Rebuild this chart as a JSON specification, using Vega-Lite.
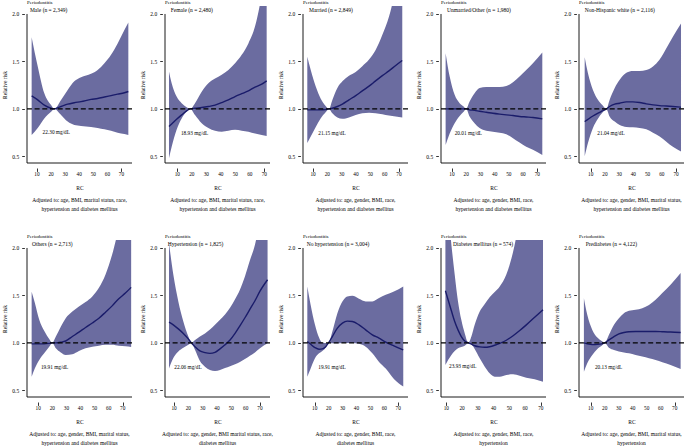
{
"$schema": "https://vega.github.io/schema/vega-lite/v6.json",
"background": "white",
"padding": {"left": 2, "top": 0, "right": 0, "bottom": 0},
"config": {
 "font": "Liberation Serif",
 "view": {"stroke": null},
 "axis": {"grid": false, "domain": false, "tickColor": "black", "labelColor": "black", "titleColor": "black", "titleFontWeight": "normal", "labelFont": "Liberation Serif", "titleFont": "Liberation Serif", "tickWidth": 0.8},
 "axisX": {"offset": 5, "tickSize": 3.4, "labels": false, "titleFontSize": 5.5, "titlePadding": 14},
 "axisY": {"offset": 2.6, "tickSize": 2.7, "labelFontSize": 5.5, "labelPadding": 3, "titleFontSize": 5.5, "titlePadding": 4.5},
 "title": {"orient": "bottom", "anchor": "middle", "fontSize": 5.5, "fontWeight": "normal", "font": "Liberation Serif", "offset": 7, "lineHeight": 8.3, "color": "black"}
},
"datasets": {
"ticks": [{"t":10},{"t":20},{"t":30},{"t":40},{"t":50},{"t":60},{"t":70}],
"c": [
{"p":1,"x":6.2,"lo":0.726,"hi":1.756,"rr":1.137},
{"p":1,"x":10.5,"lo":0.80,"hi":1.45,"rr":1.095},
{"p":1,"x":15.2,"lo":0.90,"hi":1.165,"rr":1.04},
{"p":1,"x":20.0,"lo":0.97,"hi":1.04,"rr":1.007},
{"p":1,"x":22.3,"lo":1.0,"hi":1.0,"rr":1.0},
{"p":1,"x":27.1,"lo":0.937,"hi":1.095,"rr":1.025},
{"p":1,"x":31.8,"lo":0.866,"hi":1.20,"rr":1.05},
{"p":1,"x":36.5,"lo":0.83,"hi":1.29,"rr":1.065},
{"p":1,"x":41.3,"lo":0.82,"hi":1.334,"rr":1.077},
{"p":1,"x":48.4,"lo":0.81,"hi":1.37,"rr":1.10},
{"p":1,"x":53.1,"lo":0.80,"hi":1.41,"rr":1.11},
{"p":1,"x":57.9,"lo":0.785,"hi":1.48,"rr":1.125},
{"p":1,"x":62.6,"lo":0.77,"hi":1.57,"rr":1.14},
{"p":1,"x":67.3,"lo":0.75,"hi":1.69,"rr":1.155},
{"p":1,"x":72.1,"lo":0.736,"hi":1.83,"rr":1.17},
{"p":1,"x":74.9,"lo":0.726,"hi":1.91,"rr":1.183},
{"p":2,"x":4.25,"lo":0.48,"hi":1.394,"rr":0.814},
{"p":2,"x":6.1,"lo":0.60,"hi":1.27,"rr":0.84},
{"p":2,"x":9.5,"lo":0.78,"hi":1.13,"rr":0.89},
{"p":2,"x":13.0,"lo":0.90,"hi":1.06,"rr":0.937},
{"p":2,"x":16.4,"lo":0.97,"hi":1.018,"rr":0.98},
{"p":2,"x":18.93,"lo":1.0,"hi":1.0,"rr":1.0},
{"p":2,"x":22.2,"lo":0.937,"hi":1.06,"rr":1.007},
{"p":2,"x":26.8,"lo":0.85,"hi":1.18,"rr":1.014},
{"p":2,"x":31.4,"lo":0.80,"hi":1.27,"rr":1.025},
{"p":2,"x":36.0,"lo":0.77,"hi":1.32,"rr":1.04},
{"p":2,"x":40.6,"lo":0.76,"hi":1.36,"rr":1.067},
{"p":2,"x":45.2,"lo":0.77,"hi":1.41,"rr":1.095},
{"p":2,"x":49.8,"lo":0.78,"hi":1.48,"rr":1.13},
{"p":2,"x":54.4,"lo":0.77,"hi":1.57,"rr":1.16},
{"p":2,"x":59.0,"lo":0.76,"hi":1.69,"rr":1.19},
{"p":2,"x":63.6,"lo":0.74,"hi":1.87,"rr":1.23},
{"p":2,"x":68.2,"lo":0.726,"hi":2.2,"rr":1.26},
{"p":2,"x":71.6,"lo":0.715,"hi":2.5,"rr":1.295},
{"p":3,"x":6.0,"lo":0.64,"hi":1.55,"rr":0.99},
{"p":3,"x":8.4,"lo":0.71,"hi":1.41,"rr":0.99},
{"p":3,"x":11.9,"lo":0.81,"hi":1.235,"rr":0.99},
{"p":3,"x":15.3,"lo":0.90,"hi":1.11,"rr":0.99},
{"p":3,"x":18.8,"lo":0.965,"hi":1.03,"rr":0.993},
{"p":3,"x":21.15,"lo":1.0,"hi":1.0,"rr":1.0},
{"p":3,"x":23.5,"lo":0.954,"hi":1.095,"rr":1.007},
{"p":3,"x":27.0,"lo":0.91,"hi":1.22,"rr":1.025},
{"p":3,"x":30.5,"lo":0.895,"hi":1.29,"rr":1.05},
{"p":3,"x":35.1,"lo":0.91,"hi":1.35,"rr":1.095},
{"p":3,"x":39.8,"lo":0.937,"hi":1.39,"rr":1.14},
{"p":3,"x":44.4,"lo":0.954,"hi":1.45,"rr":1.19},
{"p":3,"x":49.1,"lo":0.96,"hi":1.52,"rr":1.24},
{"p":3,"x":53.7,"lo":0.954,"hi":1.62,"rr":1.295},
{"p":3,"x":58.4,"lo":0.944,"hi":1.78,"rr":1.35},
{"p":3,"x":63.0,"lo":0.93,"hi":1.97,"rr":1.40},
{"p":3,"x":67.7,"lo":0.92,"hi":2.25,"rr":1.457},
{"p":3,"x":72.3,"lo":0.91,"hi":2.5,"rr":1.51},
{"p":4,"x":5.55,"lo":0.62,"hi":1.587,"rr":1.0},
{"p":4,"x":8.4,"lo":0.74,"hi":1.34,"rr":1.0},
{"p":4,"x":11.9,"lo":0.85,"hi":1.148,"rr":1.0},
{"p":4,"x":15.4,"lo":0.926,"hi":1.06,"rr":1.0},
{"p":4,"x":18.2,"lo":0.97,"hi":1.025,"rr":1.0},
{"p":4,"x":20.01,"lo":1.0,"hi":1.0,"rr":1.0},
{"p":4,"x":22.4,"lo":0.92,"hi":1.077,"rr":0.99},
{"p":4,"x":25.9,"lo":0.85,"hi":1.165,"rr":0.985},
{"p":4,"x":29.4,"lo":0.80,"hi":1.22,"rr":0.975},
{"p":4,"x":34.1,"lo":0.77,"hi":1.23,"rr":0.965},
{"p":4,"x":38.8,"lo":0.76,"hi":1.23,"rr":0.954},
{"p":4,"x":43.5,"lo":0.75,"hi":1.23,"rr":0.945},
{"p":4,"x":48.2,"lo":0.733,"hi":1.24,"rr":0.937},
{"p":4,"x":52.9,"lo":0.69,"hi":1.28,"rr":0.93},
{"p":4,"x":57.5,"lo":0.645,"hi":1.34,"rr":0.92},
{"p":4,"x":62.2,"lo":0.60,"hi":1.41,"rr":0.915},
{"p":4,"x":66.9,"lo":0.57,"hi":1.48,"rr":0.91},
{"p":4,"x":73.5,"lo":0.515,"hi":1.594,"rr":0.895},
{"p":5,"x":5.8,"lo":0.50,"hi":1.545,"rr":0.866},
{"p":5,"x":8.1,"lo":0.64,"hi":1.376,"rr":0.89},
{"p":5,"x":11.6,"lo":0.80,"hi":1.20,"rr":0.925},
{"p":5,"x":15.2,"lo":0.90,"hi":1.095,"rr":0.955},
{"p":5,"x":18.2,"lo":0.96,"hi":1.04,"rr":0.978},
{"p":5,"x":21.04,"lo":1.0,"hi":1.0,"rr":1.0},
{"p":5,"x":23.3,"lo":0.92,"hi":1.095,"rr":1.025},
{"p":5,"x":26.9,"lo":0.866,"hi":1.22,"rr":1.05},
{"p":5,"x":30.4,"lo":0.83,"hi":1.306,"rr":1.06},
{"p":5,"x":35.1,"lo":0.81,"hi":1.38,"rr":1.074},
{"p":5,"x":39.7,"lo":0.807,"hi":1.40,"rr":1.074},
{"p":5,"x":44.4,"lo":0.80,"hi":1.40,"rr":1.067},
{"p":5,"x":49.1,"lo":0.785,"hi":1.41,"rr":1.053},
{"p":5,"x":53.8,"lo":0.75,"hi":1.447,"rr":1.042},
{"p":5,"x":58.5,"lo":0.71,"hi":1.52,"rr":1.035},
{"p":5,"x":63.2,"lo":0.655,"hi":1.64,"rr":1.03},
{"p":5,"x":67.8,"lo":0.60,"hi":1.76,"rr":1.025},
{"p":5,"x":73.5,"lo":0.55,"hi":1.90,"rr":1.018},
{"p":6,"x":5.3,"lo":0.644,"hi":1.54,"rr":0.99},
{"p":6,"x":7.6,"lo":0.732,"hi":1.42,"rr":0.99},
{"p":6,"x":10.7,"lo":0.82,"hi":1.243,"rr":0.99},
{"p":6,"x":14.2,"lo":0.89,"hi":1.127,"rr":0.99},
{"p":6,"x":17.8,"lo":0.96,"hi":1.04,"rr":0.995},
{"p":6,"x":19.91,"lo":1.0,"hi":1.0,"rr":1.0},
{"p":6,"x":22.5,"lo":0.944,"hi":1.067,"rr":1.0},
{"p":6,"x":26.0,"lo":0.90,"hi":1.17,"rr":1.007},
{"p":6,"x":29.5,"lo":0.873,"hi":1.26,"rr":1.02},
{"p":6,"x":34.2,"lo":0.88,"hi":1.33,"rr":1.067},
{"p":6,"x":38.9,"lo":0.915,"hi":1.384,"rr":1.113},
{"p":6,"x":43.6,"lo":0.944,"hi":1.43,"rr":1.162},
{"p":6,"x":48.4,"lo":0.96,"hi":1.49,"rr":1.21},
{"p":6,"x":53.1,"lo":0.97,"hi":1.58,"rr":1.26},
{"p":6,"x":57.8,"lo":0.98,"hi":1.72,"rr":1.324},
{"p":6,"x":62.5,"lo":0.98,"hi":1.93,"rr":1.39},
{"p":6,"x":67.2,"lo":0.97,"hi":2.2,"rr":1.465},
{"p":6,"x":71.9,"lo":0.965,"hi":2.4,"rr":1.525},
{"p":6,"x":76.0,"lo":0.958,"hi":2.6,"rr":1.585},
{"p":7,"x":6.5,"lo":0.73,"hi":2.05,"rr":1.218},
{"p":7,"x":9.5,"lo":0.84,"hi":1.72,"rr":1.19},
{"p":7,"x":13.0,"lo":0.91,"hi":1.437,"rr":1.148},
{"p":7,"x":16.5,"lo":0.95,"hi":1.225,"rr":1.10},
{"p":7,"x":20.0,"lo":0.98,"hi":1.067,"rr":1.042},
{"p":7,"x":22.06,"lo":1.0,"hi":1.0,"rr":1.0},
{"p":7,"x":24.7,"lo":0.926,"hi":1.03,"rr":0.96},
{"p":7,"x":28.1,"lo":0.81,"hi":1.067,"rr":0.915},
{"p":7,"x":31.6,"lo":0.75,"hi":1.10,"rr":0.898},
{"p":7,"x":35.1,"lo":0.715,"hi":1.14,"rr":0.89},
{"p":7,"x":38.6,"lo":0.704,"hi":1.19,"rr":0.90},
{"p":7,"x":42.1,"lo":0.715,"hi":1.243,"rr":0.937},
{"p":7,"x":45.6,"lo":0.735,"hi":1.30,"rr":0.98},
{"p":7,"x":49.1,"lo":0.755,"hi":1.37,"rr":1.03},
{"p":7,"x":52.6,"lo":0.775,"hi":1.46,"rr":1.10},
{"p":7,"x":56.0,"lo":0.80,"hi":1.56,"rr":1.18},
{"p":7,"x":59.5,"lo":0.83,"hi":1.70,"rr":1.265},
{"p":7,"x":63.0,"lo":0.865,"hi":1.87,"rr":1.355},
{"p":7,"x":66.5,"lo":0.90,"hi":2.035,"rr":1.444},
{"p":7,"x":70.0,"lo":0.944,"hi":2.3,"rr":1.545},
{"p":7,"x":75.3,"lo":0.996,"hi":2.8,"rr":1.665},
{"p":8,"x":4.7,"lo":0.644,"hi":1.595,"rr":1.014},
{"p":8,"x":7.1,"lo":0.73,"hi":1.40,"rr":0.986},
{"p":8,"x":10.2,"lo":0.838,"hi":1.19,"rr":0.95},
{"p":8,"x":13.1,"lo":0.89,"hi":1.056,"rr":0.933},
{"p":8,"x":15.5,"lo":0.915,"hi":1.0,"rr":0.937},
{"p":8,"x":17.9,"lo":0.95,"hi":1.0,"rr":0.96},
{"p":8,"x":19.91,"lo":1.0,"hi":1.0,"rr":1.0},
{"p":8,"x":22.7,"lo":0.996,"hi":1.12,"rr":1.067},
{"p":8,"x":26.3,"lo":0.996,"hi":1.313,"rr":1.155},
{"p":8,"x":29.9,"lo":1.0,"hi":1.437,"rr":1.208},
{"p":8,"x":33.4,"lo":1.0,"hi":1.49,"rr":1.229},
{"p":8,"x":37.0,"lo":1.0,"hi":1.496,"rr":1.225},
{"p":8,"x":41.8,"lo":0.99,"hi":1.465,"rr":1.19},
{"p":8,"x":46.6,"lo":0.96,"hi":1.437,"rr":1.137},
{"p":8,"x":51.4,"lo":0.89,"hi":1.437,"rr":1.085},
{"p":8,"x":56.2,"lo":0.80,"hi":1.472,"rr":1.05},
{"p":8,"x":61.0,"lo":0.73,"hi":1.507,"rr":1.007},
{"p":8,"x":66.9,"lo":0.62,"hi":1.542,"rr":0.968},
{"p":8,"x":73.6,"lo":0.54,"hi":1.595,"rr":0.926},
{"p":9,"x":9.4,"lo":0.768,"hi":2.8,"rr":1.55},
{"p":9,"x":11.1,"lo":0.82,"hi":2.4,"rr":1.454},
{"p":9,"x":13.2,"lo":0.873,"hi":2.035,"rr":1.338},
{"p":9,"x":15.3,"lo":0.915,"hi":1.72,"rr":1.225},
{"p":9,"x":17.4,"lo":0.944,"hi":1.437,"rr":1.137},
{"p":9,"x":19.5,"lo":0.958,"hi":1.243,"rr":1.067},
{"p":9,"x":21.7,"lo":0.97,"hi":1.10,"rr":1.02},
{"p":9,"x":23.93,"lo":1.0,"hi":1.0,"rr":1.0},
{"p":9,"x":25.9,"lo":0.986,"hi":1.067,"rr":0.986},
{"p":9,"x":28.0,"lo":0.937,"hi":1.19,"rr":0.97},
{"p":9,"x":31.2,"lo":0.838,"hi":1.33,"rr":0.958},
{"p":9,"x":34.4,"lo":0.75,"hi":1.41,"rr":0.954},
{"p":9,"x":37.5,"lo":0.68,"hi":1.48,"rr":0.96},
{"p":9,"x":40.7,"lo":0.644,"hi":1.535,"rr":0.975},
{"p":9,"x":43.9,"lo":0.644,"hi":1.595,"rr":0.995},
{"p":9,"x":48.1,"lo":0.662,"hi":1.72,"rr":1.028},
{"p":9,"x":52.4,"lo":0.669,"hi":1.96,"rr":1.075},
{"p":9,"x":56.6,"lo":0.655,"hi":2.3,"rr":1.13},
{"p":9,"x":60.8,"lo":0.634,"hi":2.6,"rr":1.19},
{"p":9,"x":66.1,"lo":0.616,"hi":2.9,"rr":1.27},
{"p":9,"x":71.4,"lo":0.59,"hi":3.0,"rr":1.35},
{"p":10,"x":5.2,"lo":0.697,"hi":1.47,"rr":1.0},
{"p":10,"x":7.6,"lo":0.785,"hi":1.296,"rr":0.99},
{"p":10,"x":11.2,"lo":0.873,"hi":1.137,"rr":0.982},
{"p":10,"x":14.8,"lo":0.937,"hi":1.056,"rr":0.984},
{"p":10,"x":17.9,"lo":0.97,"hi":1.02,"rr":0.99},
{"p":10,"x":20.13,"lo":1.0,"hi":1.0,"rr":1.0},
{"p":10,"x":23.1,"lo":0.95,"hi":1.085,"rr":1.032},
{"p":10,"x":26.7,"lo":0.926,"hi":1.19,"rr":1.067},
{"p":10,"x":30.2,"lo":0.91,"hi":1.26,"rr":1.095},
{"p":10,"x":33.8,"lo":0.90,"hi":1.313,"rr":1.11},
{"p":10,"x":37.4,"lo":0.89,"hi":1.338,"rr":1.118},
{"p":10,"x":42.1,"lo":0.873,"hi":1.35,"rr":1.12},
{"p":10,"x":46.9,"lo":0.856,"hi":1.366,"rr":1.12},
{"p":10,"x":51.7,"lo":0.838,"hi":1.40,"rr":1.12},
{"p":10,"x":56.4,"lo":0.82,"hi":1.454,"rr":1.12},
{"p":10,"x":61.2,"lo":0.796,"hi":1.525,"rr":1.118},
{"p":10,"x":67.1,"lo":0.768,"hi":1.613,"rr":1.115},
{"p":10,"x":74.3,"lo":0.725,"hi":1.736,"rr":1.109}
]
},
"columns": 5,
"bounds": "flush",
"spacing": {"row": 77, "column": 33},
"concat": [
{"width":105,"height":157,"title":{"text":["Adjusted to: age, BMI, marital status, race,","hypertension and diabetes mellitus"]},"layer":[
 {"data":{"name":"c"},"transform":[{"filter":"datum.p == 1"}],"mark":{"type":"area","color":"#6b6ca0","opacity":1,"clip":true,"interpolate":"monotone"},"encoding":{"x":{"field":"x","type":"quantitative","scale":{"domain":[2.9,77.5],"nice":false,"zero":false},"axis":{"values":[10,20,30,40,50,60,70],"title":"RC"}},"y":{"field":"lo","type":"quantitative","scale":{"domain":[0.43,2.084],"nice":false,"zero":false},"axis":{"values":[0.5,1.0,1.5,2.0],"format":".1f","title":"Relative risk"}},"y2":{"field":"hi"}}},
 {"data":{"name":"c"},"transform":[{"filter":"datum.p == 1"}],"mark":{"type":"line","color":"#1a1c6a","strokeWidth":1.4,"interpolate":"monotone"},"encoding":{"x":{"field":"x","type":"quantitative"},"y":{"field":"rr","type":"quantitative"}}},
 {"data":{"values":[{}]},"mark":{"type":"rule","color":"black","strokeWidth":1.2,"strokeDash":[5,2.7]},"encoding":{"y":{"datum":1}}},
 {"data":{"values":[{}]},"mark":{"type":"rule","color":"black","strokeWidth":0.9},"encoding":{"y":{"datum":0.43}}},
 {"data":{"values":[{}]},"mark":{"type":"rule","color":"black","strokeWidth":0.9},"encoding":{"x":{"datum":2.9},"y":{"datum":0.43},"y2":{"datum":2.0}}},
 {"data":{"name":"ticks"},"mark":{"type":"text","font":"Liberation Serif","fontSize":5.3,"align":"center","baseline":"middle","dy":11,"color":"black"},"encoding":{"x":{"field":"t","type":"quantitative"},"y":{"datum":0.43},"text":{"field":"t"}}},
 {"data":{"values":[{}]},"mark":{"type":"text","font":"Liberation Serif","fontSize":5.3,"align":"left","baseline":"middle","color":"black"},"encoding":{"x":{"datum":14.0},"y":{"datum":0.755},"text":{"value":"22.30 mg/dL"}}},
 {"data":{"values":[{}]},"mark":{"type":"text","font":"Liberation Serif","fontSize":5.5,"align":"left","baseline":"middle","color":"black"},"encoding":{"x":{"datum":5.0},"y":{"datum":2.04},"text":{"value":"Male (n = 2,349)"}}},
 {"data":{"values":[{}]},"mark":{"type":"text","font":"Liberation Serif","fontSize":5,"align":"left","baseline":"alphabetic","dy":-2,"color":"black"},"encoding":{"x":{"datum":2.9},"y":{"datum":2.084},"text":{"value":"Periodontitis"}}}
]},
{"width":105,"height":157,"title":{"text":["Adjusted to: age, BMI, marital status, race,","hypertension and diabetes mellitus"]},"layer":[
 {"data":{"name":"c"},"transform":[{"filter":"datum.p == 2"}],"mark":{"type":"area","color":"#6b6ca0","opacity":1,"clip":true,"interpolate":"monotone"},"encoding":{"x":{"field":"x","type":"quantitative","scale":{"domain":[1.5,73.9],"nice":false,"zero":false},"axis":{"values":[10,20,30,40,50,60,70],"title":"RC"}},"y":{"field":"lo","type":"quantitative","scale":{"domain":[0.43,2.084],"nice":false,"zero":false},"axis":{"values":[0.5,1.0,1.5,2.0],"format":".1f","title":"Relative risk"}},"y2":{"field":"hi"}}},
 {"data":{"name":"c"},"transform":[{"filter":"datum.p == 2"}],"mark":{"type":"line","color":"#1a1c6a","strokeWidth":1.4,"interpolate":"monotone"},"encoding":{"x":{"field":"x","type":"quantitative"},"y":{"field":"rr","type":"quantitative"}}},
 {"data":{"values":[{}]},"mark":{"type":"rule","color":"black","strokeWidth":1.2,"strokeDash":[5,2.7]},"encoding":{"y":{"datum":1}}},
 {"data":{"values":[{}]},"mark":{"type":"rule","color":"black","strokeWidth":0.9},"encoding":{"y":{"datum":0.43}}},
 {"data":{"values":[{}]},"mark":{"type":"rule","color":"black","strokeWidth":0.9},"encoding":{"x":{"datum":1.5},"y":{"datum":0.43},"y2":{"datum":2.0}}},
 {"data":{"name":"ticks"},"mark":{"type":"text","font":"Liberation Serif","fontSize":5.3,"align":"center","baseline":"middle","dy":11,"color":"black"},"encoding":{"x":{"field":"t","type":"quantitative"},"y":{"datum":0.43},"text":{"field":"t"}}},
 {"data":{"values":[{}]},"mark":{"type":"text","font":"Liberation Serif","fontSize":5.3,"align":"left","baseline":"middle","color":"black"},"encoding":{"x":{"datum":12.5},"y":{"datum":0.75},"text":{"value":"18.93 mg/dL"}}},
 {"data":{"values":[{}]},"mark":{"type":"text","font":"Liberation Serif","fontSize":5.5,"align":"left","baseline":"middle","color":"black"},"encoding":{"x":{"datum":5.4},"y":{"datum":2.04},"text":{"value":"Female (n = 2,480)"}}},
 {"data":{"values":[{}]},"mark":{"type":"text","font":"Liberation Serif","fontSize":5,"align":"left","baseline":"alphabetic","dy":-2,"color":"black"},"encoding":{"x":{"datum":1.5},"y":{"datum":2.084},"text":{"value":"Periodontitis"}}}
]},
{"width":105,"height":157,"title":{"text":["Adjusted to: age, gender, BMI, race,","hypertension and diabetes mellitus"]},"layer":[
 {"data":{"name":"c"},"transform":[{"filter":"datum.p == 3"}],"mark":{"type":"area","color":"#6b6ca0","opacity":1,"clip":true,"interpolate":"monotone"},"encoding":{"x":{"field":"x","type":"quantitative","scale":{"domain":[3.0,76.3],"nice":false,"zero":false},"axis":{"values":[10,20,30,40,50,60,70],"title":"RC"}},"y":{"field":"lo","type":"quantitative","scale":{"domain":[0.43,2.084],"nice":false,"zero":false},"axis":{"values":[0.5,1.0,1.5,2.0],"format":".1f","title":"Relative risk"}},"y2":{"field":"hi"}}},
 {"data":{"name":"c"},"transform":[{"filter":"datum.p == 3"}],"mark":{"type":"line","color":"#1a1c6a","strokeWidth":1.4,"interpolate":"monotone"},"encoding":{"x":{"field":"x","type":"quantitative"},"y":{"field":"rr","type":"quantitative"}}},
 {"data":{"values":[{}]},"mark":{"type":"rule","color":"black","strokeWidth":1.2,"strokeDash":[5,2.7]},"encoding":{"y":{"datum":1}}},
 {"data":{"values":[{}]},"mark":{"type":"rule","color":"black","strokeWidth":0.9},"encoding":{"y":{"datum":0.43}}},
 {"data":{"values":[{}]},"mark":{"type":"rule","color":"black","strokeWidth":0.9},"encoding":{"x":{"datum":3.0},"y":{"datum":0.43},"y2":{"datum":2.0}}},
 {"data":{"name":"ticks"},"mark":{"type":"text","font":"Liberation Serif","fontSize":5.3,"align":"center","baseline":"middle","dy":11,"color":"black"},"encoding":{"x":{"field":"t","type":"quantitative"},"y":{"datum":0.43},"text":{"field":"t"}}},
 {"data":{"values":[{}]},"mark":{"type":"text","font":"Liberation Serif","fontSize":5.3,"align":"left","baseline":"middle","color":"black"},"encoding":{"x":{"datum":13.7},"y":{"datum":0.75},"text":{"value":"21.15 mg/dL"}}},
 {"data":{"values":[{}]},"mark":{"type":"text","font":"Liberation Serif","fontSize":5.5,"align":"left","baseline":"middle","color":"black"},"encoding":{"x":{"datum":7.2},"y":{"datum":2.04},"text":{"value":"Married (n = 2,849)"}}},
 {"data":{"values":[{}]},"mark":{"type":"text","font":"Liberation Serif","fontSize":5,"align":"left","baseline":"alphabetic","dy":-2,"color":"black"},"encoding":{"x":{"datum":3.0},"y":{"datum":2.084},"text":{"value":"Periodontitis"}}}
]},
{"width":105,"height":157,"title":{"text":["Adjusted to: age, gender, BMI, race,","hypertension and diabetes mellitus"]},"layer":[
 {"data":{"name":"c"},"transform":[{"filter":"datum.p == 4"}],"mark":{"type":"area","color":"#6b6ca0","opacity":1,"clip":true,"interpolate":"monotone"},"encoding":{"x":{"field":"x","type":"quantitative","scale":{"domain":[2.3,76.1],"nice":false,"zero":false},"axis":{"values":[10,20,30,40,50,60,70],"title":"RC"}},"y":{"field":"lo","type":"quantitative","scale":{"domain":[0.43,2.084],"nice":false,"zero":false},"axis":{"values":[0.5,1.0,1.5,2.0],"format":".1f","title":"Relative risk"}},"y2":{"field":"hi"}}},
 {"data":{"name":"c"},"transform":[{"filter":"datum.p == 4"}],"mark":{"type":"line","color":"#1a1c6a","strokeWidth":1.4,"interpolate":"monotone"},"encoding":{"x":{"field":"x","type":"quantitative"},"y":{"field":"rr","type":"quantitative"}}},
 {"data":{"values":[{}]},"mark":{"type":"rule","color":"black","strokeWidth":1.2,"strokeDash":[5,2.7]},"encoding":{"y":{"datum":1}}},
 {"data":{"values":[{}]},"mark":{"type":"rule","color":"black","strokeWidth":0.9},"encoding":{"y":{"datum":0.43}}},
 {"data":{"values":[{}]},"mark":{"type":"rule","color":"black","strokeWidth":0.9},"encoding":{"x":{"datum":2.3},"y":{"datum":0.43},"y2":{"datum":2.0}}},
 {"data":{"name":"ticks"},"mark":{"type":"text","font":"Liberation Serif","fontSize":5.3,"align":"center","baseline":"middle","dy":11,"color":"black"},"encoding":{"x":{"field":"t","type":"quantitative"},"y":{"datum":0.43},"text":{"field":"t"}}},
 {"data":{"values":[{}]},"mark":{"type":"text","font":"Liberation Serif","fontSize":5.3,"align":"left","baseline":"middle","color":"black"},"encoding":{"x":{"datum":11.9},"y":{"datum":0.75},"text":{"value":"20.01 mg/dL"}}},
 {"data":{"values":[{}]},"mark":{"type":"text","font":"Liberation Serif","fontSize":5.5,"align":"left","baseline":"middle","color":"black"},"encoding":{"x":{"datum":6.5},"y":{"datum":2.04},"text":{"value":"Unmarried/Other (n = 1,980)"}}},
 {"data":{"values":[{}]},"mark":{"type":"text","font":"Liberation Serif","fontSize":5,"align":"left","baseline":"alphabetic","dy":-2,"color":"black"},"encoding":{"x":{"datum":2.3},"y":{"datum":2.084},"text":{"value":"Periodontitis"}}}
]},
{"width":105,"height":157,"title":{"text":["Adjusted to: age, gender, BMI, marital status,","hypertension and diabetes mellitus"]},"layer":[
 {"data":{"name":"c"},"transform":[{"filter":"datum.p == 5"}],"mark":{"type":"area","color":"#6b6ca0","opacity":1,"clip":true,"interpolate":"monotone"},"encoding":{"x":{"field":"x","type":"quantitative","scale":{"domain":[1.8,75.6],"nice":false,"zero":false},"axis":{"values":[10,20,30,40,50,60,70],"title":"RC"}},"y":{"field":"lo","type":"quantitative","scale":{"domain":[0.43,2.084],"nice":false,"zero":false},"axis":{"values":[0.5,1.0,1.5,2.0],"format":".1f","title":"Relative risk"}},"y2":{"field":"hi"}}},
 {"data":{"name":"c"},"transform":[{"filter":"datum.p == 5"}],"mark":{"type":"line","color":"#1a1c6a","strokeWidth":1.4,"interpolate":"monotone"},"encoding":{"x":{"field":"x","type":"quantitative"},"y":{"field":"rr","type":"quantitative"}}},
 {"data":{"values":[{}]},"mark":{"type":"rule","color":"black","strokeWidth":1.2,"strokeDash":[5,2.7]},"encoding":{"y":{"datum":1}}},
 {"data":{"values":[{}]},"mark":{"type":"rule","color":"black","strokeWidth":0.9},"encoding":{"y":{"datum":0.43}}},
 {"data":{"values":[{}]},"mark":{"type":"rule","color":"black","strokeWidth":0.9},"encoding":{"x":{"datum":1.8},"y":{"datum":0.43},"y2":{"datum":2.0}}},
 {"data":{"name":"ticks"},"mark":{"type":"text","font":"Liberation Serif","fontSize":5.3,"align":"center","baseline":"middle","dy":11,"color":"black"},"encoding":{"x":{"field":"t","type":"quantitative"},"y":{"datum":0.43},"text":{"field":"t"}}},
 {"data":{"values":[{}]},"mark":{"type":"text","font":"Liberation Serif","fontSize":5.3,"align":"left","baseline":"middle","color":"black"},"encoding":{"x":{"datum":14.7},"y":{"datum":0.75},"text":{"value":"21.04 mg/dL"}}},
 {"data":{"values":[{}]},"mark":{"type":"text","font":"Liberation Serif","fontSize":5.5,"align":"left","baseline":"middle","color":"black"},"encoding":{"x":{"datum":5.8},"y":{"datum":2.04},"text":{"value":"Non-Hispanic white (n = 2,116)"}}},
 {"data":{"values":[{}]},"mark":{"type":"text","font":"Liberation Serif","fontSize":5,"align":"left","baseline":"alphabetic","dy":-2,"color":"black"},"encoding":{"x":{"datum":1.8},"y":{"datum":2.084},"text":{"value":"Periodontitis"}}}
]},
{"width":105,"height":157,"title":{"text":["Adjusted to: age, gender, BMI, marital status,","hypertension and diabetes mellitus"]},"layer":[
 {"data":{"name":"c"},"transform":[{"filter":"datum.p == 6"}],"mark":{"type":"area","color":"#6b6ca0","opacity":1,"clip":true,"interpolate":"monotone"},"encoding":{"x":{"field":"x","type":"quantitative","scale":{"domain":[2.0,76.6],"nice":false,"zero":false},"axis":{"values":[10,20,30,40,50,60,70],"title":"RC"}},"y":{"field":"lo","type":"quantitative","scale":{"domain":[0.43,2.084],"nice":false,"zero":false},"axis":{"values":[0.5,1.0,1.5,2.0],"format":".1f","title":"Relative risk"}},"y2":{"field":"hi"}}},
 {"data":{"name":"c"},"transform":[{"filter":"datum.p == 6"}],"mark":{"type":"line","color":"#1a1c6a","strokeWidth":1.4,"interpolate":"monotone"},"encoding":{"x":{"field":"x","type":"quantitative"},"y":{"field":"rr","type":"quantitative"}}},
 {"data":{"values":[{}]},"mark":{"type":"rule","color":"black","strokeWidth":1.2,"strokeDash":[5,2.7]},"encoding":{"y":{"datum":1}}},
 {"data":{"values":[{}]},"mark":{"type":"rule","color":"black","strokeWidth":0.9},"encoding":{"y":{"datum":0.43}}},
 {"data":{"values":[{}]},"mark":{"type":"rule","color":"black","strokeWidth":0.9},"encoding":{"x":{"datum":2.0},"y":{"datum":0.43},"y2":{"datum":2.0}}},
 {"data":{"name":"ticks"},"mark":{"type":"text","font":"Liberation Serif","fontSize":5.3,"align":"center","baseline":"middle","dy":11,"color":"black"},"encoding":{"x":{"field":"t","type":"quantitative"},"y":{"datum":0.43},"text":{"field":"t"}}},
 {"data":{"values":[{}]},"mark":{"type":"text","font":"Liberation Serif","fontSize":5.3,"align":"left","baseline":"middle","color":"black"},"encoding":{"x":{"datum":11.9},"y":{"datum":0.75},"text":{"value":"19.91 mg/dL"}}},
 {"data":{"values":[{}]},"mark":{"type":"text","font":"Liberation Serif","fontSize":5.5,"align":"left","baseline":"middle","color":"black"},"encoding":{"x":{"datum":5.5},"y":{"datum":2.04},"text":{"value":"Others (n = 2,713)"}}},
 {"data":{"values":[{}]},"mark":{"type":"text","font":"Liberation Serif","fontSize":5,"align":"left","baseline":"alphabetic","dy":-2,"color":"black"},"encoding":{"x":{"datum":2.0},"y":{"datum":2.084},"text":{"value":"Periodontitis"}}}
]},
{"width":105,"height":157,"title":{"text":["Adjusted to: age, gender, BMI marital status, race,","diabetes mellitus"]},"layer":[
 {"data":{"name":"c"},"transform":[{"filter":"datum.p == 7"}],"mark":{"type":"area","color":"#6b6ca0","opacity":1,"clip":true,"interpolate":"monotone"},"encoding":{"x":{"field":"x","type":"quantitative","scale":{"domain":[3.7,77.0],"nice":false,"zero":false},"axis":{"values":[10,20,30,40,50,60,70],"title":"RC"}},"y":{"field":"lo","type":"quantitative","scale":{"domain":[0.43,2.084],"nice":false,"zero":false},"axis":{"values":[0.5,1.0,1.5,2.0],"format":".1f","title":"Relative risk"}},"y2":{"field":"hi"}}},
 {"data":{"name":"c"},"transform":[{"filter":"datum.p == 7"}],"mark":{"type":"line","color":"#1a1c6a","strokeWidth":1.4,"interpolate":"monotone"},"encoding":{"x":{"field":"x","type":"quantitative"},"y":{"field":"rr","type":"quantitative"}}},
 {"data":{"values":[{}]},"mark":{"type":"rule","color":"black","strokeWidth":1.2,"strokeDash":[5,2.7]},"encoding":{"y":{"datum":1}}},
 {"data":{"values":[{}]},"mark":{"type":"rule","color":"black","strokeWidth":0.9},"encoding":{"y":{"datum":0.43}}},
 {"data":{"values":[{}]},"mark":{"type":"rule","color":"black","strokeWidth":0.9},"encoding":{"x":{"datum":3.7},"y":{"datum":0.43},"y2":{"datum":2.0}}},
 {"data":{"name":"ticks"},"mark":{"type":"text","font":"Liberation Serif","fontSize":5.3,"align":"center","baseline":"middle","dy":11,"color":"black"},"encoding":{"x":{"field":"t","type":"quantitative"},"y":{"datum":0.43},"text":{"field":"t"}}},
 {"data":{"values":[{}]},"mark":{"type":"text","font":"Liberation Serif","fontSize":5.3,"align":"left","baseline":"middle","color":"black"},"encoding":{"x":{"datum":10.2},"y":{"datum":0.75},"text":{"value":"22.06 mg/dL"}}},
 {"data":{"values":[{}]},"mark":{"type":"text","font":"Liberation Serif","fontSize":5.5,"align":"left","baseline":"middle","color":"black"},"encoding":{"x":{"datum":5.6},"y":{"datum":2.04},"text":{"value":"Hypertension (n = 1,825)"}}},
 {"data":{"values":[{}]},"mark":{"type":"text","font":"Liberation Serif","fontSize":5,"align":"left","baseline":"alphabetic","dy":-2,"color":"black"},"encoding":{"x":{"datum":3.7},"y":{"datum":2.084},"text":{"value":"Periodontitis"}}}
]},
{"width":105,"height":157,"title":{"text":["Adjusted to: age, gender, BMI, race,","diabetes mellitus"]},"layer":[
 {"data":{"name":"c"},"transform":[{"filter":"datum.p == 8"}],"mark":{"type":"area","color":"#6b6ca0","opacity":1,"clip":true,"interpolate":"monotone"},"encoding":{"x":{"field":"x","type":"quantitative","scale":{"domain":[1.6,77.0],"nice":false,"zero":false},"axis":{"values":[10,20,30,40,50,60,70],"title":"RC"}},"y":{"field":"lo","type":"quantitative","scale":{"domain":[0.43,2.084],"nice":false,"zero":false},"axis":{"values":[0.5,1.0,1.5,2.0],"format":".1f","title":"Relative risk"}},"y2":{"field":"hi"}}},
 {"data":{"name":"c"},"transform":[{"filter":"datum.p == 8"}],"mark":{"type":"line","color":"#1a1c6a","strokeWidth":1.4,"interpolate":"monotone"},"encoding":{"x":{"field":"x","type":"quantitative"},"y":{"field":"rr","type":"quantitative"}}},
 {"data":{"values":[{}]},"mark":{"type":"rule","color":"black","strokeWidth":1.2,"strokeDash":[5,2.7]},"encoding":{"y":{"datum":1}}},
 {"data":{"values":[{}]},"mark":{"type":"rule","color":"black","strokeWidth":0.9},"encoding":{"y":{"datum":0.43}}},
 {"data":{"values":[{}]},"mark":{"type":"rule","color":"black","strokeWidth":0.9},"encoding":{"x":{"datum":1.6},"y":{"datum":0.43},"y2":{"datum":2.0}}},
 {"data":{"name":"ticks"},"mark":{"type":"text","font":"Liberation Serif","fontSize":5.3,"align":"center","baseline":"middle","dy":11,"color":"black"},"encoding":{"x":{"field":"t","type":"quantitative"},"y":{"datum":0.43},"text":{"field":"t"}}},
 {"data":{"values":[{}]},"mark":{"type":"text","font":"Liberation Serif","fontSize":5.3,"align":"left","baseline":"middle","color":"black"},"encoding":{"x":{"datum":12.6},"y":{"datum":0.75},"text":{"value":"19.91 mg/dL"}}},
 {"data":{"values":[{}]},"mark":{"type":"text","font":"Liberation Serif","fontSize":5.5,"align":"left","baseline":"middle","color":"black"},"encoding":{"x":{"datum":4.3},"y":{"datum":2.04},"text":{"value":"No hypertension (n = 3,004)"}}},
 {"data":{"values":[{}]},"mark":{"type":"text","font":"Liberation Serif","fontSize":5,"align":"left","baseline":"alphabetic","dy":-2,"color":"black"},"encoding":{"x":{"datum":1.6},"y":{"datum":2.084},"text":{"value":"Periodontitis"}}}
]},
{"width":105,"height":157,"title":{"text":["Adjusted to: age, gender, BMI, race,","hypertension"]},"layer":[
 {"data":{"name":"c"},"transform":[{"filter":"datum.p == 9"}],"mark":{"type":"area","color":"#6b6ca0","opacity":1,"clip":true,"interpolate":"monotone"},"encoding":{"x":{"field":"x","type":"quantitative","scale":{"domain":[6.6,73.3],"nice":false,"zero":false},"axis":{"values":[10,20,30,40,50,60,70],"title":"RC"}},"y":{"field":"lo","type":"quantitative","scale":{"domain":[0.43,2.084],"nice":false,"zero":false},"axis":{"values":[0.5,1.0,1.5,2.0],"format":".1f","title":"Relative risk"}},"y2":{"field":"hi"}}},
 {"data":{"name":"c"},"transform":[{"filter":"datum.p == 9"}],"mark":{"type":"line","color":"#1a1c6a","strokeWidth":1.4,"interpolate":"monotone"},"encoding":{"x":{"field":"x","type":"quantitative"},"y":{"field":"rr","type":"quantitative"}}},
 {"data":{"values":[{}]},"mark":{"type":"rule","color":"black","strokeWidth":1.2,"strokeDash":[5,2.7]},"encoding":{"y":{"datum":1}}},
 {"data":{"values":[{}]},"mark":{"type":"rule","color":"black","strokeWidth":0.9},"encoding":{"y":{"datum":0.43}}},
 {"data":{"values":[{}]},"mark":{"type":"rule","color":"black","strokeWidth":0.9},"encoding":{"x":{"datum":6.6},"y":{"datum":0.43},"y2":{"datum":2.0}}},
 {"data":{"name":"ticks"},"mark":{"type":"text","font":"Liberation Serif","fontSize":5.3,"align":"center","baseline":"middle","dy":11,"color":"black"},"encoding":{"x":{"field":"t","type":"quantitative"},"y":{"datum":0.43},"text":{"field":"t"}}},
 {"data":{"values":[{}]},"mark":{"type":"text","font":"Liberation Serif","fontSize":5.3,"align":"left","baseline":"middle","color":"black"},"encoding":{"x":{"datum":11.7},"y":{"datum":0.755},"text":{"value":"23.93 mg/dL"}}},
 {"data":{"values":[{}]},"mark":{"type":"text","font":"Liberation Serif","fontSize":5.5,"align":"left","baseline":"middle","color":"black"},"encoding":{"x":{"datum":14.2},"y":{"datum":2.04},"text":{"value":"Diabetes mellitus (n = 574)"}}},
 {"data":{"values":[{}]},"mark":{"type":"text","font":"Liberation Serif","fontSize":5,"align":"left","baseline":"alphabetic","dy":-2,"color":"black"},"encoding":{"x":{"datum":6.6},"y":{"datum":2.084},"text":{"value":"Periodontitis"}}}
]},
{"width":105,"height":157,"title":{"text":["Adjusted to: age, gender, BMI, marital status,","hypertension"]},"layer":[
 {"data":{"name":"c"},"transform":[{"filter":"datum.p == 10"}],"mark":{"type":"area","color":"#6b6ca0","opacity":1,"clip":true,"interpolate":"monotone"},"encoding":{"x":{"field":"x","type":"quantitative","scale":{"domain":[1.7,76.7],"nice":false,"zero":false},"axis":{"values":[10,20,30,40,50,60,70],"title":"RC"}},"y":{"field":"lo","type":"quantitative","scale":{"domain":[0.43,2.084],"nice":false,"zero":false},"axis":{"values":[0.5,1.0,1.5,2.0],"format":".1f","title":"Relative risk"}},"y2":{"field":"hi"}}},
 {"data":{"name":"c"},"transform":[{"filter":"datum.p == 10"}],"mark":{"type":"line","color":"#1a1c6a","strokeWidth":1.4,"interpolate":"monotone"},"encoding":{"x":{"field":"x","type":"quantitative"},"y":{"field":"rr","type":"quantitative"}}},
 {"data":{"values":[{}]},"mark":{"type":"rule","color":"black","strokeWidth":1.2,"strokeDash":[5,2.7]},"encoding":{"y":{"datum":1}}},
 {"data":{"values":[{}]},"mark":{"type":"rule","color":"black","strokeWidth":0.9},"encoding":{"y":{"datum":0.43}}},
 {"data":{"values":[{}]},"mark":{"type":"rule","color":"black","strokeWidth":0.9},"encoding":{"x":{"datum":1.7},"y":{"datum":0.43},"y2":{"datum":2.0}}},
 {"data":{"name":"ticks"},"mark":{"type":"text","font":"Liberation Serif","fontSize":5.3,"align":"center","baseline":"middle","dy":11,"color":"black"},"encoding":{"x":{"field":"t","type":"quantitative"},"y":{"datum":0.43},"text":{"field":"t"}}},
 {"data":{"values":[{}]},"mark":{"type":"text","font":"Liberation Serif","fontSize":5.3,"align":"left","baseline":"middle","color":"black"},"encoding":{"x":{"datum":13.1},"y":{"datum":0.75},"text":{"value":"20.13 mg/dL"}}},
 {"data":{"values":[{}]},"mark":{"type":"text","font":"Liberation Serif","fontSize":5.5,"align":"left","baseline":"middle","color":"black"},"encoding":{"x":{"datum":6.5},"y":{"datum":2.04},"text":{"value":"Prediabetes (n = 4,122)"}}},
 {"data":{"values":[{}]},"mark":{"type":"text","font":"Liberation Serif","fontSize":5,"align":"left","baseline":"alphabetic","dy":-2,"color":"black"},"encoding":{"x":{"datum":1.7},"y":{"datum":2.084},"text":{"value":"Periodontitis"}}}
]}
]
}
